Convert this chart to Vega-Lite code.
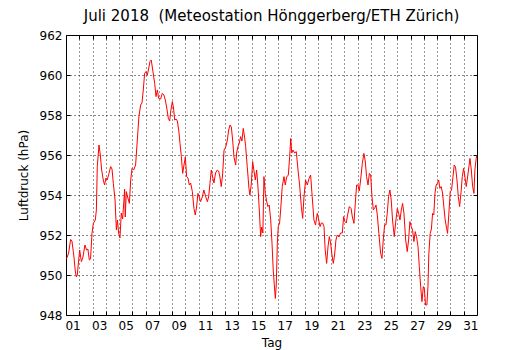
{
  "$schema": "https://vega.github.io/schema/vega-lite/v6.json",
  "width": 411,
  "height": 280,
  "autosize": {"type": "none"},
  "padding": {"left": 66, "top": 35, "right": 53, "bottom": 35},
  "background": "white",
  "title": {"text": "Juli 2018 \u00a0(Meteostation Hönggerberg/ETH Zürich)", "font": "DejaVu Sans", "fontSize": 15, "fontWeight": "normal", "color": "black", "offset": 5},
  "config": {
    "view": {"stroke": "black", "strokeWidth": 1},
    "axis": {
      "labelFont": "DejaVu Sans", "labelFontSize": 12, "labelColor": "black",
      "titleFont": "DejaVu Sans", "titleFontSize": 12, "titleFontWeight": "normal", "titleColor": "black",
      "domain": false, "tickColor": "black", "tickWidth": 1,
      "gridColor": "black", "gridDash": [1, 3], "gridWidth": 1, "gridOpacity": 0.9,
      "labelOverlap": false, "labelFlush": false, "labelBound": false
    }
  },
  "data": {"values": [
    {"t": 0.0, "p": 950.8}, {"t": 0.05, "p": 950.83}, {"t": 0.2, "p": 951.1}, {"t": 0.35, "p": 951.78}, {"t": 0.45, "p": 951.7},
    {"t": 0.6, "p": 950.9}, {"t": 0.7, "p": 950.2}, {"t": 0.78, "p": 949.9}, {"t": 0.85, "p": 950.0}, {"t": 1.03, "p": 951.25},
    {"t": 1.16, "p": 950.67}, {"t": 1.28, "p": 950.9}, {"t": 1.43, "p": 951.5}, {"t": 1.55, "p": 951.25}, {"t": 1.65, "p": 951.3},
    {"t": 1.76, "p": 950.75}, {"t": 1.85, "p": 950.8}, {"t": 1.96, "p": 952.08}, {"t": 2.06, "p": 952.58}, {"t": 2.21, "p": 952.75},
    {"t": 2.29, "p": 953.25}, {"t": 2.36, "p": 955.42}, {"t": 2.49, "p": 956.5}, {"t": 2.59, "p": 956.0}, {"t": 2.68, "p": 955.3},
    {"t": 2.81, "p": 954.75}, {"t": 2.91, "p": 954.5}, {"t": 3.01, "p": 954.85}, {"t": 3.11, "p": 954.75}, {"t": 3.24, "p": 955.08},
    {"t": 3.37, "p": 955.42}, {"t": 3.47, "p": 955.3}, {"t": 3.57, "p": 954.58}, {"t": 3.7, "p": 953.75}, {"t": 3.8, "p": 952.25},
    {"t": 3.88, "p": 952.75}, {"t": 3.97, "p": 952.1}, {"t": 4.07, "p": 951.85}, {"t": 4.17, "p": 953.1}, {"t": 4.27, "p": 952.8},
    {"t": 4.37, "p": 953.75}, {"t": 4.42, "p": 954.3}, {"t": 4.47, "p": 952.9}, {"t": 4.55, "p": 954.17}, {"t": 4.65, "p": 953.9},
    {"t": 4.78, "p": 953.58}, {"t": 4.88, "p": 954.75}, {"t": 4.98, "p": 955.33}, {"t": 5.1, "p": 955.25}, {"t": 5.25, "p": 955.5},
    {"t": 5.38, "p": 956.75}, {"t": 5.5, "p": 957.92}, {"t": 5.63, "p": 958.5}, {"t": 5.73, "p": 958.6}, {"t": 5.83, "p": 959.25},
    {"t": 5.93, "p": 960.08}, {"t": 6.03, "p": 960.17}, {"t": 6.13, "p": 960.0}, {"t": 6.23, "p": 960.3}, {"t": 6.33, "p": 960.67},
    {"t": 6.43, "p": 960.75}, {"t": 6.54, "p": 960.25}, {"t": 6.69, "p": 959.58}, {"t": 6.79, "p": 958.92}, {"t": 6.89, "p": 959.25},
    {"t": 6.99, "p": 958.83}, {"t": 7.14, "p": 958.8}, {"t": 7.26, "p": 959.08}, {"t": 7.38, "p": 959.0}, {"t": 7.49, "p": 958.75},
    {"t": 7.59, "p": 958.4}, {"t": 7.72, "p": 957.83}, {"t": 7.82, "p": 957.7}, {"t": 7.9, "p": 958.2}, {"t": 8.02, "p": 958.67},
    {"t": 8.1, "p": 958.4}, {"t": 8.2, "p": 957.75}, {"t": 8.3, "p": 957.8}, {"t": 8.4, "p": 957.7}, {"t": 8.5, "p": 957.25},
    {"t": 8.6, "p": 956.58}, {"t": 8.7, "p": 955.92}, {"t": 8.8, "p": 955.08}, {"t": 8.9, "p": 955.5}, {"t": 9.0, "p": 955.9},
    {"t": 9.1, "p": 954.92}, {"t": 9.2, "p": 954.85}, {"t": 9.3, "p": 954.5}, {"t": 9.4, "p": 954.6}, {"t": 9.53, "p": 954.17},
    {"t": 9.65, "p": 953.33}, {"t": 9.75, "p": 953.0}, {"t": 9.85, "p": 953.4}, {"t": 9.95, "p": 954.08}, {"t": 10.05, "p": 953.9},
    {"t": 10.15, "p": 953.67}, {"t": 10.28, "p": 953.9}, {"t": 10.4, "p": 954.25}, {"t": 10.5, "p": 954.0}, {"t": 10.66, "p": 953.67},
    {"t": 10.76, "p": 953.9}, {"t": 10.86, "p": 954.58}, {"t": 10.96, "p": 955.25}, {"t": 11.06, "p": 954.9}, {"t": 11.16, "p": 954.6},
    {"t": 11.28, "p": 955.1}, {"t": 11.41, "p": 955.25}, {"t": 11.51, "p": 955.2}, {"t": 11.61, "p": 954.9}, {"t": 11.71, "p": 954.42},
    {"t": 11.81, "p": 955.0}, {"t": 11.92, "p": 956.25}, {"t": 12.05, "p": 956.4}, {"t": 12.17, "p": 956.75}, {"t": 12.27, "p": 957.25},
    {"t": 12.37, "p": 957.5}, {"t": 12.47, "p": 957.4}, {"t": 12.57, "p": 956.75}, {"t": 12.67, "p": 955.9}, {"t": 12.8, "p": 955.5},
    {"t": 12.87, "p": 956.1}, {"t": 12.97, "p": 956.42}, {"t": 13.07, "p": 956.6}, {"t": 13.17, "p": 956.92}, {"t": 13.27, "p": 956.7},
    {"t": 13.37, "p": 957.33}, {"t": 13.47, "p": 956.9}, {"t": 13.55, "p": 956.42}, {"t": 13.67, "p": 955.42}, {"t": 13.8, "p": 954.33},
    {"t": 13.87, "p": 954.0}, {"t": 13.97, "p": 954.5}, {"t": 14.08, "p": 955.67}, {"t": 14.18, "p": 955.2}, {"t": 14.28, "p": 954.75},
    {"t": 14.38, "p": 955.25}, {"t": 14.48, "p": 954.4}, {"t": 14.58, "p": 953.25}, {"t": 14.68, "p": 951.92}, {"t": 14.76, "p": 952.4},
    {"t": 14.85, "p": 952.1}, {"t": 14.93, "p": 954.92}, {"t": 15.03, "p": 954.08}, {"t": 15.13, "p": 953.7}, {"t": 15.23, "p": 953.42},
    {"t": 15.33, "p": 953.5}, {"t": 15.44, "p": 952.75}, {"t": 15.54, "p": 951.58}, {"t": 15.63, "p": 950.25}, {"t": 15.74, "p": 949.25},
    {"t": 15.79, "p": 948.83}, {"t": 15.86, "p": 949.5}, {"t": 15.94, "p": 951.58}, {"t": 16.01, "p": 952.42}, {"t": 16.11, "p": 952.6},
    {"t": 16.19, "p": 953.25}, {"t": 16.31, "p": 954.42}, {"t": 16.44, "p": 954.92}, {"t": 16.54, "p": 954.5}, {"t": 16.64, "p": 954.9},
    {"t": 16.77, "p": 955.0}, {"t": 16.87, "p": 955.92}, {"t": 16.95, "p": 956.83}, {"t": 17.03, "p": 956.1}, {"t": 17.12, "p": 956.25},
    {"t": 17.25, "p": 956.1}, {"t": 17.37, "p": 956.17}, {"t": 17.5, "p": 955.25}, {"t": 17.62, "p": 954.5}, {"t": 17.75, "p": 953.42},
    {"t": 17.85, "p": 952.83}, {"t": 17.95, "p": 953.9}, {"t": 18.07, "p": 954.75}, {"t": 18.2, "p": 954.5}, {"t": 18.33, "p": 954.83},
    {"t": 18.45, "p": 955.0}, {"t": 18.57, "p": 953.92}, {"t": 18.7, "p": 952.75}, {"t": 18.82, "p": 952.5}, {"t": 18.95, "p": 953.08},
    {"t": 19.05, "p": 952.8}, {"t": 19.16, "p": 952.42}, {"t": 19.26, "p": 952.6}, {"t": 19.36, "p": 952.6}, {"t": 19.46, "p": 952.42},
    {"t": 19.55, "p": 951.25}, {"t": 19.66, "p": 950.58}, {"t": 19.76, "p": 951.4}, {"t": 19.86, "p": 951.92}, {"t": 19.96, "p": 951.6},
    {"t": 20.06, "p": 951.0}, {"t": 20.16, "p": 950.58}, {"t": 20.26, "p": 951.0}, {"t": 20.36, "p": 951.75}, {"t": 20.46, "p": 952.0},
    {"t": 20.59, "p": 951.9}, {"t": 20.71, "p": 952.1}, {"t": 20.84, "p": 952.1}, {"t": 20.94, "p": 952.92}, {"t": 21.04, "p": 952.67},
    {"t": 21.14, "p": 952.6}, {"t": 21.24, "p": 953.0}, {"t": 21.37, "p": 953.42}, {"t": 21.5, "p": 953.33}, {"t": 21.6, "p": 952.9},
    {"t": 21.72, "p": 952.58}, {"t": 21.82, "p": 953.58}, {"t": 21.92, "p": 954.5}, {"t": 22.02, "p": 954.5}, {"t": 22.12, "p": 954.2},
    {"t": 22.22, "p": 954.75}, {"t": 22.35, "p": 955.58}, {"t": 22.47, "p": 956.08}, {"t": 22.57, "p": 955.7}, {"t": 22.67, "p": 954.92},
    {"t": 22.78, "p": 954.5}, {"t": 22.88, "p": 955.08}, {"t": 22.98, "p": 955.0}, {"t": 23.08, "p": 953.92}, {"t": 23.18, "p": 953.25},
    {"t": 23.28, "p": 953.33}, {"t": 23.38, "p": 953.5}, {"t": 23.48, "p": 953.0}, {"t": 23.6, "p": 952.08}, {"t": 23.73, "p": 951.08},
    {"t": 23.83, "p": 950.83}, {"t": 23.93, "p": 951.75}, {"t": 24.03, "p": 952.5}, {"t": 24.13, "p": 952.5}, {"t": 24.23, "p": 953.08},
    {"t": 24.33, "p": 953.92}, {"t": 24.43, "p": 954.25}, {"t": 24.53, "p": 953.75}, {"t": 24.63, "p": 952.75}, {"t": 24.76, "p": 951.92},
    {"t": 24.86, "p": 952.6}, {"t": 24.99, "p": 953.33}, {"t": 25.09, "p": 953.08}, {"t": 25.19, "p": 952.75}, {"t": 25.29, "p": 953.25},
    {"t": 25.39, "p": 953.58}, {"t": 25.49, "p": 953.08}, {"t": 25.62, "p": 951.75}, {"t": 25.74, "p": 951.17}, {"t": 25.84, "p": 951.75},
    {"t": 25.94, "p": 952.67}, {"t": 26.04, "p": 952.42}, {"t": 26.14, "p": 952.25}, {"t": 26.24, "p": 951.67}, {"t": 26.34, "p": 952.17},
    {"t": 26.44, "p": 951.92}, {"t": 26.55, "p": 951.42}, {"t": 26.65, "p": 950.42}, {"t": 26.75, "p": 949.42}, {"t": 26.85, "p": 948.67},
    {"t": 26.95, "p": 949.42}, {"t": 27.03, "p": 949.3}, {"t": 27.12, "p": 948.5}, {"t": 27.22, "p": 948.5}, {"t": 27.3, "p": 949.42},
    {"t": 27.37, "p": 951.08}, {"t": 27.47, "p": 952.08}, {"t": 27.56, "p": 952.3}, {"t": 27.65, "p": 953.08}, {"t": 27.74, "p": 953.0},
    {"t": 27.83, "p": 954.08}, {"t": 27.92, "p": 954.5}, {"t": 28.01, "p": 954.58}, {"t": 28.11, "p": 954.75}, {"t": 28.2, "p": 954.33},
    {"t": 28.3, "p": 954.42}, {"t": 28.4, "p": 954.1}, {"t": 28.5, "p": 953.42}, {"t": 28.6, "p": 952.75}, {"t": 28.71, "p": 952.33},
    {"t": 28.78, "p": 952.08}, {"t": 28.88, "p": 953.1}, {"t": 28.98, "p": 954.17}, {"t": 29.08, "p": 954.25}, {"t": 29.19, "p": 954.92},
    {"t": 29.28, "p": 955.5}, {"t": 29.38, "p": 955.4}, {"t": 29.49, "p": 954.75}, {"t": 29.59, "p": 953.92}, {"t": 29.69, "p": 953.42},
    {"t": 29.79, "p": 954.1}, {"t": 29.89, "p": 954.92}, {"t": 29.99, "p": 955.33}, {"t": 30.09, "p": 954.9}, {"t": 30.19, "p": 954.42},
    {"t": 30.29, "p": 954.9}, {"t": 30.39, "p": 955.42}, {"t": 30.47, "p": 955.83}, {"t": 30.57, "p": 955.25}, {"t": 30.67, "p": 954.42},
    {"t": 30.77, "p": 954.08}, {"t": 30.84, "p": 955.25}, {"t": 30.94, "p": 955.83}, {"t": 30.99, "p": 956.0}
  ]},
  "layer": [
    {
      "mark": {"type": "line", "color": "red", "strokeWidth": 1, "clip": true},
      "encoding": {
        "x": {
          "field": "t", "type": "quantitative",
          "scale": {"domain": [0, 31], "nice": false, "zero": false},
          "axis": {
            "orient": "bottom", "title": "Tag", "titlePadding": 6,
            "values": [0.5, 1, 2, 2.5, 3, 4, 4.5, 5, 6, 6.5, 7, 8, 8.5, 9, 10, 10.5, 11, 12, 12.5, 13, 14, 14.5, 15, 16, 16.5, 17, 18, 18.5, 19, 20, 20.5, 21, 22, 22.5, 23, 24, 24.5, 25, 26, 26.5, 27, 28, 28.5, 29, 30, 30.5],
            "labelExpr": "datum.value % 1 == 0.5 ? ((floor(datum.value) < 9 ? '0' : '') + (floor(datum.value) + 1)) : ''",
            "tickSize": -4,
            "labelPadding": 9,
            "tickOpacity": {"condition": {"test": "datum.value % 1 == 0", "value": 1}, "value": 0},
            "grid": true,
            "gridOpacity": {"condition": {"test": "datum.value % 1 == 0", "value": 0.9}, "value": 0}
          }
        },
        "y": {
          "field": "p", "type": "quantitative",
          "scale": {"domain": [948, 962], "nice": false, "zero": false},
          "axis": {
            "orient": "left", "title": "Luftdruck (hPa)", "titlePadding": 9,
            "values": [948, 950, 952, 954, 956, 958, 960, 962],
            "tickSize": -4, "labelPadding": 8, "grid": true
          }
        }
      }
    },
    {
      "mark": {"type": "line", "opacity": 0},
      "encoding": {
        "x": {
          "field": "t", "type": "quantitative",
          "scale": {"domain": [0, 31], "nice": false, "zero": false},
          "axis": {"orient": "top", "title": null, "labels": false, "grid": false, "tickSize": -4, "values": [1, 2, 3, 4, 5, 6, 7, 8, 9, 10, 11, 12, 13, 14, 15, 16, 17, 18, 19, 20, 21, 22, 23, 24, 25, 26, 27, 28, 29, 30]}
        },
        "y": {
          "field": "p", "type": "quantitative",
          "scale": {"domain": [948, 962], "nice": false, "zero": false},
          "axis": {"orient": "right", "title": null, "labels": false, "grid": false, "tickSize": -4, "values": [948, 950, 952, 954, 956, 958, 960, 962]}
        }
      }
    }
  ],
  "resolve": {"axis": {"x": "independent", "y": "independent"}}
}
